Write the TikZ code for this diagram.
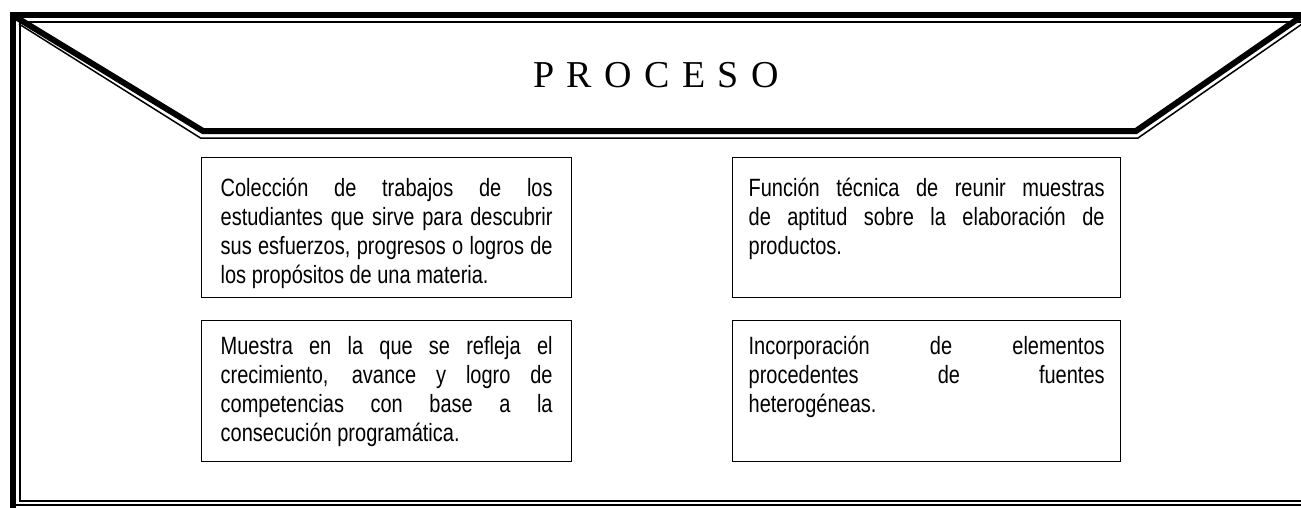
\documentclass[tikz,border=0pt]{standalone}
\usepackage{fontspec}
\setmainfont{Liberation Serif}
\newfontfamily\narrowfont[FakeStretch=0.80]{Liberation Sans}
\newfontfamily\titlefont[WordSpace=1.3]{Liberation Serif}
\usetikzlibrary{positioning}

\begin{document}
\begin{tikzpicture}[
   x=1pt,y=-1pt,
   thickline/.style={line width=6pt,line join=miter,line cap=rect},
   thinline/.style={line width=1.5pt,line join=miter},
   cell/.style={draw,line width=1.3pt,anchor=north west,inner ysep=0pt,
                align=justify,font=\narrowfont\fontsize{25}{29}\selectfont},
   upper/.style={text height=39pt,text depth=101pt},
   lower/.style={text height=34pt,text depth=107pt}
 ]
  \useasboundingbox (0,0) rectangle (1301,507);
  % outer frame
  \draw[thickline] (13,507) -- (13,15) -- (1310,15);
  \draw[thinline] (1310,22) -- (20,22) -- (20,501) -- (1310,501);
  \draw[thinline] (10,505) -- (1310,505);
  % heading band
  \draw[thickline,line cap=butt] (14,16) -- (203,131) -- (1136,131) -- (1302,16);
  \draw[thinline] (19,24) -- (200.5,138) -- (1138,138) -- (1302,24);
  \node[font=\titlefont\fontsize{38}{44}\selectfont,anchor=base] (title) at (656,87) {P R O C E S O};
  % boxes
  \node[cell,upper,text width=332pt,inner xsep=19pt] (coleccion) at (201,157)
    {Colección de trabajos de los\linebreak estudiantes que sirve para descubrir\linebreak sus esfuerzos, progresos o logros de\linebreak los propósitos de una materia.};
  \node[cell,upper,text width=356pt,inner xsep=16pt] (funcion) at (732,157)
    {Función técnica de reunir muestras\linebreak de aptitud sobre la elaboración de\linebreak productos.};
  \node[cell,lower,text width=332pt,inner xsep=19pt] (muestra) at (201,320)
    {Muestra en la que se refleja el\linebreak crecimiento, avance y logro de\linebreak competencias con base a la\linebreak consecución programática.};
  \node[cell,lower,text width=356pt,inner xsep=16pt] (incorporacion) at (732,320)
    {Incorporación de elementos\linebreak procedentes de fuentes\linebreak heterogéneas.};
 \end{tikzpicture}
\end{document}
